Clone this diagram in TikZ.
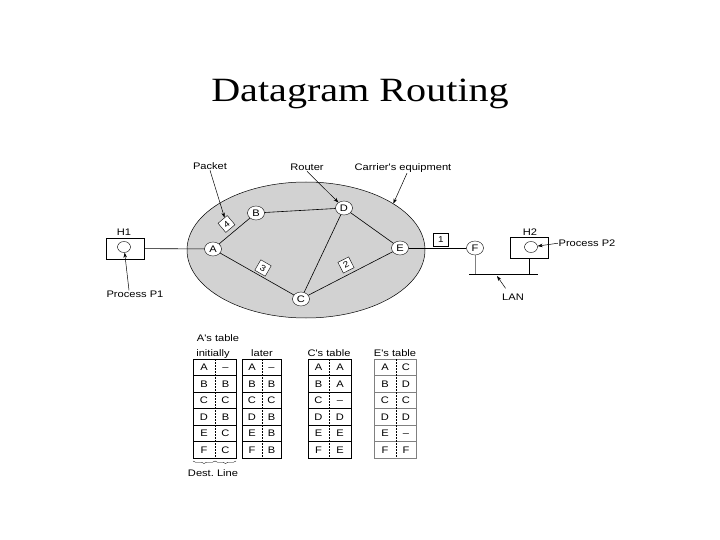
\documentclass[tikz,border=0pt]{standalone}
\usepackage{fontspec}
\newfontfamily\titlefont[FakeStretch=1.18]{Liberation Serif}
\newfontfamily\lblfont[FakeStretch=1.17]{Liberation Sans}
\usetikzlibrary{arrows.meta,shapes.geometric,decorations.pathreplacing}

\tikzset{
  router/.style={ellipse,draw,fill=white,inner sep=0pt,minimum width=17pt,minimum height=14pt,font=\lblfont\fontsize{9.5}{10}\selectfont},
  pkt/.style={draw,fill=white,inner sep=0pt,minimum size=12pt,font=\lblfont\fontsize{8.5}{9}\selectfont},
  host/.style={draw,fill=white,inner sep=0pt,minimum width=38pt,minimum height=21pt},
  proc/.style={ellipse,draw,inner sep=0pt,minimum width=13pt,minimum height=11pt},
  lbl/.style={font=\lblfont\fontsize{9.5}{10}\selectfont,inner sep=0.5pt,anchor=base},
  cell/.style={font=\lblfont\fontsize{9.5}{10}\selectfont,inner sep=0pt,text height=6.8pt,text depth=0pt},
  pointer/.style={-{Stealth[length=5pt,width=3.5pt]},line width=0.5pt},
  link/.style={line width=0.6pt},
  tabframe/.style={line width=0.7pt},
  rowline/.style={line width=0.5pt},
  divider/.style={line width=0.5pt,dash pattern=on 1.5pt off 1.5pt},
  destbrace/.style={decorate,decoration={brace,mirror,amplitude=2.5pt},line width=0.4pt},
}

\begin{document}
\begin{tikzpicture}[x=1pt,y=-1pt]
\useasboundingbox (0,0) rectangle (720,540);

% Title
\node[anchor=base,font=\titlefont\fontsize{34}{34}\selectfont] (title) at (360,102) {Datagram Routing};

% Carrier's equipment
\node[ellipse,draw,fill=gray!35,minimum width=238pt,minimum height=136pt,inner sep=0pt,line width=0.5pt] (net) at (306,250) {};

% Hosts
\node[host] (h1) at (125,248.5) {};
\node[proc] (p1c) at (124,247) {};
\node[host] (h2) at (529.5,248) {};
\node[proc] (p2c) at (531,247) {};

% Routers
\node[router] (A) at (213,249) {A};
\node[router] (B) at (256,213) {B};
\node[router] (D) at (344,208) {D};
\node[router] (E) at (400,248) {E};
\node[router] (C) at (301,299) {C};
\node[router] (F) at (475,248) {F};

% Lines
\draw[link] (h1) -- (A);
\draw[link] (A) -- (B);
\draw[link] (B) -- (D);
\draw[link] (A) -- (C);
\draw[link] (D) -- (C);
\draw[link] (D) -- (E);
\draw[link] (C) -- (E);
\draw[link] (E) -- (F);

% LAN
\coordinate (lanL) at (469,274);
\coordinate (lanR) at (538,274);
\coordinate (lantip) at (497,276);
\draw[line width=0.8pt] (lanL) -- (lanR);
\draw[link,gray] (F) -- (F |- lanL);
\draw[link] (h2) -- (h2 |- lanL);

% Packets
\node[pkt,rotate=40] (pk4) at (226.5,224) {4};
\node[pkt,rotate=-30] (pk3) at (263,268) {3};
\node[pkt,rotate=27] (pk2) at (346,265) {2};
\node[pkt,minimum width=15pt,minimum height=13pt] (pk1) at (441,240) {1};

% Labels
\node[lbl] (lpacket) at (210,169.5) {Packet};
\node[lbl] (lrouter) at (307,170.5) {Router};
\node[lbl] (lcarrier) at (403,170.5) {Carrier's equipment};
\node[lbl] (lh1) at (124,236) {H1};
\node[lbl] (lh2) at (530,235.5) {H2};
\node[lbl] (lp1) at (135,297.5) {Process P1};
\node[lbl] (lp2) at (587,246.5) {Process P2};
\node[lbl] (llan) at (513,300.5) {LAN};

\draw[pointer] (lpacket.south) -- (pk4);
\draw[pointer] (lrouter.south) -- (D);
\draw[pointer] ([xshift=4pt]lcarrier.south) -- (net.28);
\draw[pointer] ([xshift=-6pt]lp1.north) -- (p1c);
\draw[pointer] (lp2.west) -- (p2c);
\draw[pointer,shorten <=6pt] ([xshift=-4pt]llan.north) -- (lantip);

% Tables
\node[lbl] (latab) at (218,341.5) {A's table};
\node[lbl] (linit) at (213,356.5) {initially};
\node[lbl] (llater) at (262,356.5) {later};
\node[lbl] (lctab) at (329,356.5) {C's table};
\node[lbl] (letab) at (395,356.5) {E's table};

% A initially
\draw[tabframe] (193,359) rectangle (236,458);
\foreach \r in {1,...,5} \draw[rowline] (193,{359+16.5*\r}) -- (236,{359+16.5*\r});
\draw[divider] (215,359) -- (215,458);
\foreach \d/\l [count=\i] in {A/\textendash,B/B,C/C,D/B,E/C,F/C} {
  \node[cell] (ai-\i-d) at (204,{350.75+16.5*\i}) {\d};
  \node[cell] (ai-\i-l) at (225.5,{350.75+16.5*\i}) {\l};
}

% A later
\draw[tabframe] (242,359) rectangle (281,458);
\foreach \r in {1,...,5} \draw[rowline] (242,{359+16.5*\r}) -- (281,{359+16.5*\r});
\draw[divider] (262,359) -- (262,458);
\foreach \d/\l [count=\i] in {A/\textendash,B/B,C/C,D/B,E/B,F/B} {
  \node[cell] (al-\i-d) at (252,{350.75+16.5*\i}) {\d};
  \node[cell] (al-\i-l) at (271.5,{350.75+16.5*\i}) {\l};
}

% C's table
\draw[tabframe] (308,359) rectangle (351,458);
\foreach \r in {1,...,5} \draw[rowline] (308,{359+16.5*\r}) -- (351,{359+16.5*\r});
\draw[divider] (329,359) -- (329,458);
\foreach \d/\l [count=\i] in {A/A,B/A,C/\textendash,D/D,E/E,F/E} {
  \node[cell] (ct-\i-d) at (318.5,{350.75+16.5*\i}) {\d};
  \node[cell] (ct-\i-l) at (340,{350.75+16.5*\i}) {\l};
}

% E's table
\draw[tabframe,gray] (374,359) rectangle (416,458);
\foreach \r in {1,...,5} \draw[rowline,gray] (374,{359+16.5*\r}) -- (416,{359+16.5*\r});
\draw[divider] (396,359) -- (396,458);
\foreach \d/\l [count=\i] in {A/C,B/D,C/C,D/D,E/\textendash,F/F} {
  \node[cell] (et-\i-d) at (385,{350.75+16.5*\i}) {\d};
  \node[cell] (et-\i-l) at (406,{350.75+16.5*\i}) {\l};
}

% Dest. / Line
\draw[destbrace] (193,461) -- (215,461);
\draw[destbrace] (215,461) -- (236,461);
\node[lbl] (ldest) at (213,476.5) {Dest.\ Line};
\end{tikzpicture}
\end{document}
